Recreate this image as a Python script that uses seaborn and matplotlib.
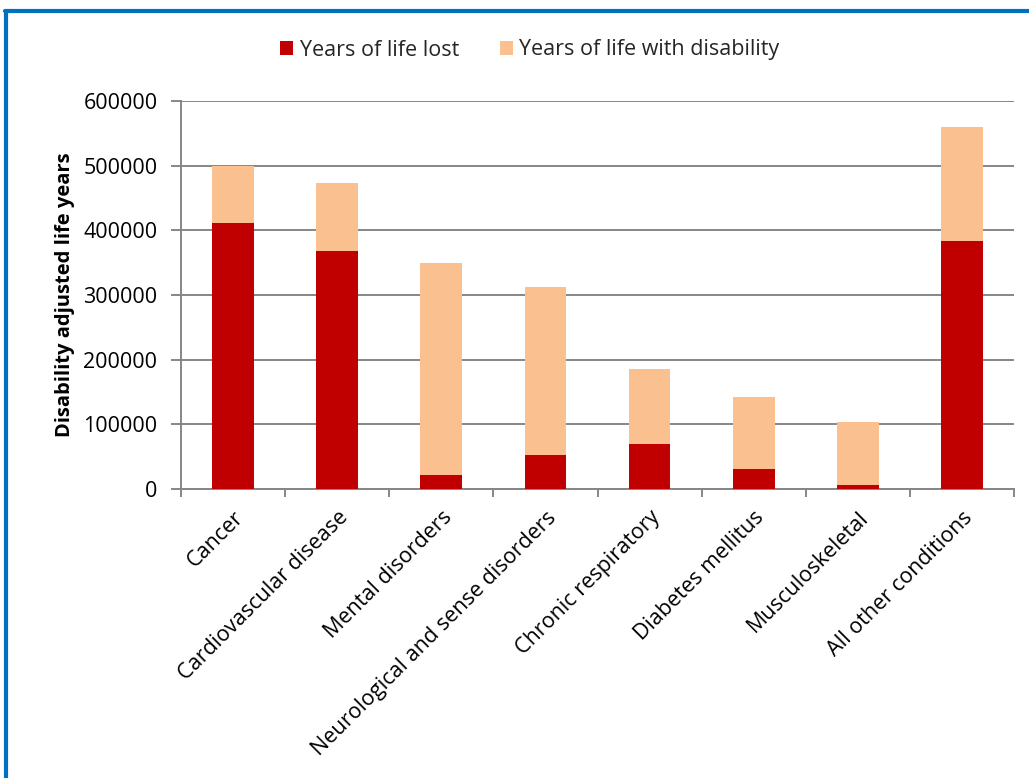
import numpy as np
import pandas as pd
import matplotlib
matplotlib.use("Agg")
import matplotlib.pyplot as plt
from matplotlib.lines import Line2D
from matplotlib.patches import Patch
import seaborn as sns

categories = [
    "Cancer",
    "Cardiovascular disease",
    "Mental disorders",
    "Neurological and sense disorders",
    "Chronic respiratory",
    "Diabetes mellitus",
    "Musculoskeletal",
    "All other conditions",
]
years_life_lost = [411000, 368000, 21600, 52500, 69500, 31000, 5700, 383000]
years_with_disability = [89000, 105000, 327400, 259500, 116500, 111700, 98300, 176500]
y_ticks = [0, 100000, 200000, 300000, 400000, 500000, 600000]

RED = "#C00000"
PEACH = "#FAC090"
GRID = "#868686"

sns.set_theme(style="white")
plt.rcParams["font.family"] = ["Open Sans", "DejaVu Sans"]

df = pd.DataFrame({
    "condition": categories,
    "yll": years_life_lost,
    "yld": years_with_disability,
})

fig = plt.figure(figsize=(10.29, 7.78), dpi=100)
ax = fig.add_axes([181 / 1029, 1 - 489 / 778, (1014 - 181) / 1029, (489 - 101) / 778])

# stacked bars: years of life lost at the bottom, disability on top
sns.barplot(data=df, x="condition", y="yll", color=RED, width=0.4,
            saturation=1, ax=ax, linewidth=0, zorder=3)
sns.barplot(data=df, x="condition", y="yld", bottom=df["yll"], color=PEACH,
            width=0.4, saturation=1, ax=ax, linewidth=0, zorder=3)

ax.set_xlim(-0.5, len(categories) - 0.5)
ax.set_ylim(0, 600000)
ax.set_yticks(y_ticks)
ax.set_yticklabels([str(v) for v in y_ticks], fontsize=15.5, color="black")
ax.yaxis.grid(True, color=GRID, linewidth=1.4, zorder=0)
ax.set_axisbelow(True)

# category separators as minor ticks on the x axis
ax.set_xticks(np.arange(len(categories)))
ax.set_xticklabels(categories, rotation=45, ha="right", va="top",
                   rotation_mode="anchor", fontsize=15.5, color="black")
ax.set_xticks(np.arange(-0.5, len(categories), 1.0), minor=True)
ax.tick_params(axis="x", which="major", length=0, pad=13)
ax.tick_params(axis="x", which="minor", length=6, width=1.4, color=GRID, bottom=True)
ax.tick_params(axis="y", which="major", length=7, width=1.4, color=GRID, left=True, pad=10)

for side in ["top", "right"]:
    ax.spines[side].set_visible(False)
for side in ["left", "bottom"]:
    ax.spines[side].set_color(GRID)
    ax.spines[side].set_linewidth(1.4)

ax.set_xlabel("")
ax.set_ylabel("Disability adjusted life years", fontsize=14.5, fontweight="bold",
              color="black", labelpad=6)

handles = [Patch(facecolor=RED, edgecolor="none"), Patch(facecolor=PEACH, edgecolor="none")]
fig.legend(handles, ["Years of life lost", "Years of life with disability"],
           loc="center", bbox_to_anchor=(530 / 1029, 1 - 50 / 778), ncol=2,
           frameon=False, fontsize=15.5, handlelength=0.6, handleheight=0.6,
           handletextpad=0.3, columnspacing=1.9)

# blue chart-area frame along the top and left edges
fig.add_artist(Line2D([5 / 1029, 1.0], [1 - 11 / 778, 1 - 11 / 778],
                      transform=fig.transFigure, color="#0070C0", linewidth=3))
fig.add_artist(Line2D([6 / 1029, 6 / 1029], [0.0, 1 - 11 / 778],
                      transform=fig.transFigure, color="#0070C0", linewidth=3))

fig.savefig("out.png", dpi=100, facecolor="white")
